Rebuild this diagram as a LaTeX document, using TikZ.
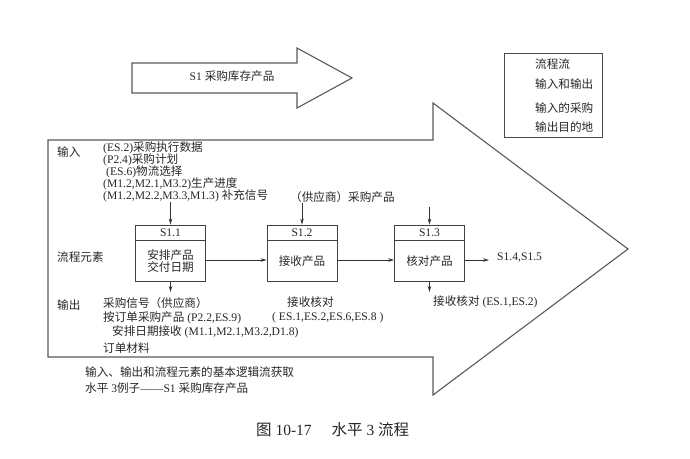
\documentclass[tikz,border=0pt]{standalone}
\usepackage{fontspec}
\setmainfont{Liberation Serif}
\newfontfamily\zhfont{Noto Sans CJK SC}
\newcommand{\zt}[1]{{\zhfont #1}}
\usepackage{tikz}
\usetikzlibrary{positioning,arrows.meta}

\begin{document}
\begin{tikzpicture}[
    x=1pt, y=-1pt,
    font=\fontsize{11.6}{13}\selectfont,
    every node/.style={text=black!85},
    txt/.style={anchor=west, inner sep=0pt},
    big/.style={draw=black!65, line width=1.1pt, line join=miter},
    head/.style={draw=black!75, minimum width=70pt, minimum height=15pt, inner sep=0pt, thick},
    body/.style={draw=black!75, minimum width=70pt, minimum height=41pt, inner sep=0pt, align=center, thick},
    arrow/.style={-{Stealth[length=6pt,width=3.5pt]}, draw=black!80, thick}
  ]
    \useasboundingbox (0,0) rectangle (690,458);
    % arrows and legend
    \draw[big] (132,63) -- (297,63) -- (297,48) -- (352,78) -- (297,108) -- (297,93) -- (132,93) -- cycle;
    \node[inner sep=0pt] (title) at (232,76) {S1 \zt{采购库存产品}};
    \draw[big] (48,140) -- (433,140) -- (433,103) -- (628,249) -- (433,395) -- (433,357) -- (48,357) -- cycle;
    \draw[draw=black!70, thick] (504,53) rectangle (602,137);
    \node[txt] (lg1) at (535,64) {\zt{流程流}};
    \node[txt] (lg2) at (535,84) {\zt{输入和输出}};
    \node[txt] (lg3) at (535,108) {\zt{输入的采购}};
    \node[txt] (lg4) at (535,127) {\zt{输出目的地}};

    % inputs
    \node[txt] (inlab) at (57,152) {\zt{输入}};
    \node[txt] (in1) at (103,148) {(ES.2)\zt{采购执行数据}};
    \node[txt] (in2) at (103,160) {(P2.4)\zt{采购计划}};
    \node[txt] (in3) at (106,172) {(ES.6)\zt{物流选择}};
    \node[txt] (in4) at (103,184) {(M1.2,M2.1,M3.2)\zt{生产进度}};
    \node[txt] (in5) at (103,196) {(M1.2,M2.2,M3.3,M1.3) \zt{补充信号}};
    \node[txt] (supp) at (290,197) {\zt{（供应商）采购产品}};
    \coordinate (in13) at (429.5,207);

    % process elements
    \node[txt] (proclab) at (57,257) {\zt{流程元素}};
    \node[head] (h11) at (170.5,232.5) {S1.1};
    \node[body, below=0pt of h11] (s11) {\zt{安排产品}\\[-1pt]\zt{交付日期}};
    \node[head] (h12) at (302,232.5) {S1.2};
    \node[body, below=0pt of h12] (s12) {\zt{接收产品}};
    \node[head] (h13) at (429.5,232.5) {S1.3};
    \node[body, below=0pt of h13] (s13) {\zt{核对产品}};
    \node[txt] (next) at (497,258) {S1.4,S1.5};
    \coordinate (nx) at (489,260);

    \draw[arrow] (in5.south -| h11.north) -- (h11.north);
    \draw[arrow] (supp.south -| h12.north) -- (h12.north);
    \draw[arrow] (in13) -- (h13.north);
    \draw[arrow] (s11.east |- 0,260) -- (s12.west |- 0,260);
    \draw[arrow] (s12.east |- 0,260) -- (s13.west |- 0,260);
    \draw[arrow] (s13.east |- nx) -- (nx);
    \coordinate (o11) at (170.5,292);
    \coordinate (o13) at (429.5,292);
    \draw[arrow] (s11.south) -- (o11);
    \draw[arrow] (s13.south) -- (o13);

    % outputs
    \node[txt] (outlab) at (57,305) {\zt{输出}};
    \node[txt] (out1) at (103,303) {\zt{采购信号（供应商）}};
    \node[txt] (out2) at (103,318) {\zt{按订单采购产品} (P2.2,ES.9)};
    \node[txt] (out3) at (112,332) {\zt{安排日期接收} (M1.1,M2.1,M3.2,D1.8)};
    \node[txt] (out4) at (103,348) {\zt{订单材料}};
    \node[txt] (rc1) at (287,302) {\zt{接收核对}};
    \node[txt] (rc2) at (272,318) {( ES.1,ES.2,ES.6,ES.8 )};
    \node[txt] (rc3) at (433,302) {\zt{接收核对} (ES.1,ES.2)};

    % notes and caption
    \node[txt] (note1) at (85,372) {\zt{输入、输出和流程元素的基本逻辑流获取}};
    \node[txt] (note2) at (85,388) {\zt{水平} 3\zt{例子}——S1 \zt{采购库存产品}};
    \node[txt, font=\fontsize{15.5}{17}\selectfont] (cap) at (256,430) {\zt{图} 10-17\hspace{20pt}\zt{水平} 3 \zt{流程}};
  \end{tikzpicture}
\end{document}
